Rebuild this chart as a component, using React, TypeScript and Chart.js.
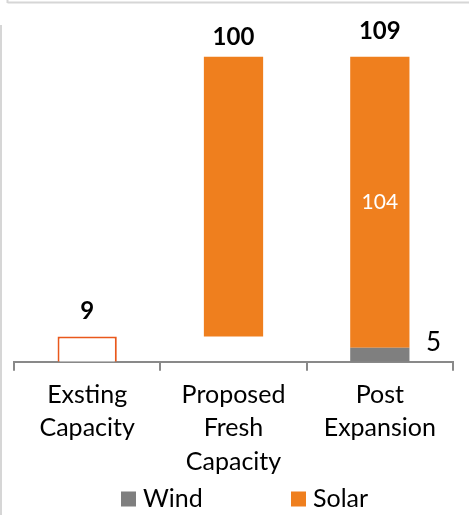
import React, { useEffect, useRef } from "react";
import { Chart, registerables } from "chart.js";

Chart.register(...registerables);

// ---- data ----
const categories: string[][] = [
  ["Exsting", "Capacity"],
  ["Proposed", "Fresh", "Capacity"],
  ["Post", "Expansion"],
];
const windValues = [null, null, 5];
const solarValues = [null, null, 104];
const proposedBase = [null, 9, null];
const proposedValues = [null, 100, null];
const existingValues = [9, null, null];
const totalLabels = ["9", "100", "109"];
const legendNames = ["Wind", "Solar"];

// ---- style ----
const ORANGE = "#EF7F1E";
const GRAY = "#7F7F7F";
const OUTLINE = "#E9581C";
const FONT = "Lato, 'Open Sans', sans-serif";
const totalLabelOffsets = [25, 20, 26];

const labelPlugin = {
  id: "customLabels",
  beforeDraw(chart: any) {
    const ctx = chart.ctx;
    ctx.save();
    ctx.strokeStyle = "#D6D6D6";
    ctx.lineWidth = 2;
    ctx.beginPath();
    ctx.moveTo(7.5, 0);
    ctx.lineTo(7.5, 3);
    ctx.moveTo(7.5, 2.5);
    ctx.lineTo(chart.width, 2.5);
    ctx.moveTo(1, 25);
    ctx.lineTo(1, chart.height);
    ctx.stroke();
    ctx.restore();
  },
  afterDatasetsDraw(chart: any) {
    const ctx = chart.ctx;
    ctx.save();
    ctx.textAlign = "center";
    ctx.textBaseline = "middle";
    for (let i = 0; i < categories.length; i++) {
      let top = Infinity;
      let x = 0;
      chart.data.datasets.forEach((ds: any, di: number) => {
        if (ds.data[i] == null) return;
        const el = chart.getDatasetMeta(di).data[i];
        if (el && el.y < top) {
          top = el.y;
          x = el.x;
        }
      });
      ctx.font = `bold 24px ${FONT}`;
      ctx.fillStyle = "#000";
      ctx.fillText(totalLabels[i], x, top - totalLabelOffsets[i]);
    }
    const solarEl = chart.getDatasetMeta(1).data[2];
    if (solarEl) {
      ctx.font = `21px ${FONT}`;
      ctx.fillStyle = "#FFFFFF";
      ctx.fillText(String(solarValues[2]), solarEl.x, (solarEl.y + solarEl.base) / 2);
    }
    const windEl = chart.getDatasetMeta(0).data[2];
    if (windEl) {
      ctx.font = `26px ${FONT}`;
      ctx.fillStyle = "#000";
      ctx.fillText(String(windValues[2]), windEl.x + windEl.width / 2 + 24, (windEl.y + windEl.base) / 2 - 12);
    }
    ctx.restore();
  },
  afterDraw(chart: any) {
    const ctx = chart.ctx;
    ctx.save();
    ctx.font = `25px ${FONT}`;
    ctx.textBaseline = "middle";
    ctx.textAlign = "left";
    const colors = [GRAY, ORANGE];
    const starts = [121, 291];
    const y = 499;
    legendNames.forEach((name, i) => {
      ctx.fillStyle = colors[i];
      ctx.fillRect(starts[i], y - 7.5, 15, 15);
      ctx.fillStyle = "#000";
      ctx.fillText(name, starts[i] + 22, y);
    });
    ctx.restore();
  },
};

export default function App() {
  const ref = useRef<HTMLCanvasElement | null>(null);
  useEffect(() => {
    if (!ref.current) return;
    const chart = new Chart(ref.current, {
      type: "bar",
      data: {
        labels: categories,
        datasets: [
          { label: legendNames[0], data: windValues as any, backgroundColor: GRAY },
          { label: legendNames[1], data: solarValues as any, backgroundColor: ORANGE },
          { label: "base", data: proposedBase as any, backgroundColor: "rgba(0,0,0,0)" },
          { label: "Proposed", data: proposedValues as any, backgroundColor: ORANGE },
          {
            label: "Existing",
            data: existingValues as any,
            backgroundColor: "#FFFFFF",
            borderColor: OUTLINE,
            borderWidth: 2,
          },
        ],
      },
      options: {
        animation: false,
        responsive: true,
        maintainAspectRatio: false,
        datasets: { bar: { categoryPercentage: 1, barPercentage: 0.405 } },
        layout: { padding: { left: 14, right: 16, top: 26, bottom: 29 } },
        plugins: { legend: { display: false }, tooltip: { enabled: false } },
        scales: {
          x: {
            stacked: true,
            grid: {
              display: true,
              drawOnChartArea: false,
              drawTicks: true,
              tickLength: 9,
              color: "#898989",
              lineWidth: 2,
              offset: true,
            },
            border: { display: true, color: "#898989", width: 2 },
            ticks: {
              color: "#000",
              padding: 8,
              font: { family: FONT, size: 25, lineHeight: 1.325 },
              maxRotation: 0,
              autoSkip: false,
            },
          },
          y: {
            stacked: true,
            display: false,
            min: 0,
            max: 120,
          },
        },
      },
      plugins: [labelPlugin],
    });
    return () => chart.destroy();
  }, []);
  return (
    <div style={{ position: "absolute", left: 0, top: 0, width: 469, height: 515, background: "#fff" }}>
      <canvas ref={ref} />
    </div>
  );
}
